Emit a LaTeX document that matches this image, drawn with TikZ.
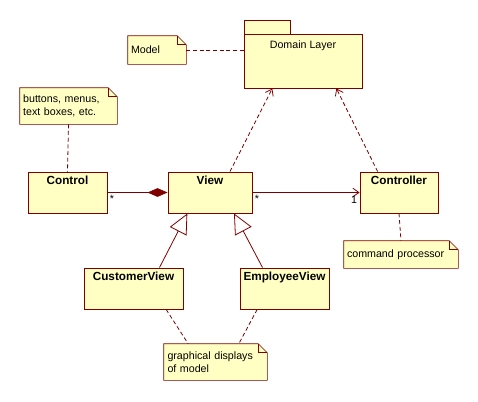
\documentclass[tikz,border=0pt]{standalone}
\usepackage{fontspec}
\setmainfont{Liberation Sans}
\usepackage{tikz}
\usetikzlibrary{arrows.meta, positioning, backgrounds, calc}

\definecolor{umlline}{HTML}{800000}
\definecolor{umlfill}{HTML}{FFFFC4}

\begin{document}
\begin{tikzpicture}[x=0.75pt, y=-0.75pt, font=\fontsize{8}{10}\selectfont,
    classbox/.style={draw=umlline, fill=umlfill, line width=0.7pt, minimum height=30.75pt, inner sep=0pt},
    classname/.style={anchor=north, inner sep=3pt, font=\bfseries\fontsize{8.8}{10}\selectfont},
    notebox/.style={align=left, inner sep=0pt, anchor=center},
    link/.style={draw=umlline, line width=0.6pt},
    notelink/.style={draw=umlline, line width=0.6pt, dash pattern=on 3pt off 2pt}]
  \useasboundingbox (0,0) rectangle (478,401);

  % classes
  \node[classbox, minimum width=59.25pt, label={[classname]north:Control}] (control) at (67.5,192.5) {};
  \node[classbox, minimum width=63pt, label={[classname]north:View}] (view) at (210,192.5) {};
  \node[classbox, minimum width=58.5pt, label={[classname]north:Controller}] (controller) at (399,192.5) {};
  \node[classbox, minimum width=74.25pt, label={[classname]north:CustomerView}] (custview) at (133.5,288.5) {};
  \node[classbox, minimum width=66.75pt, label={[classname]north:EmployeeView}] (empview) at (284.5,288.5) {};

  % package
  \draw[draw=umlline, fill=umlfill, line width=0.7pt] (244,20) rectangle (290,34);
  \node[classbox, minimum width=88.5pt, minimum height=40.5pt, label={[anchor=north,inner sep=5pt]north:Domain Layer}] (domain) at (303,61) {};

  % notes
  \node[notebox, minimum width=43.5pt, minimum height=21pt, text width=39pt] (modelnote) at (157,50) {Model};
  \node[notebox, minimum width=72.75pt, minimum height=27pt, text width=68pt] (buttonnote) at (68.5,106) {buttons, menus,\\text boxes, etc.};
  \node[notebox, minimum width=85.5pt, minimum height=20.25pt, text width=81pt] (cmdnote) at (401,254.5) {command processor};
  \node[notebox, minimum width=77.25pt, minimum height=27pt, text width=72pt] (gfxnote) at (215.5,362) {graphical displays\\of model};
  \begin{scope}[on background layer, line width=0.7pt]
    \foreach \n in {modelnote, buttonnote, cmdnote, gfxnote} {
      \draw[draw=umlline, fill=umlfill] (\n.south west) -- (\n.north west) -- ($(\n.north east)+(-9,0)$)
        -- ($(\n.north east)+(0,9)$) -- (\n.south east) -- cycle;
      \draw[umlline] ($(\n.north east)+(-9,0)$) -- ($(\n.north east)+(-9,9)$) -- ($(\n.north east)+(0,9)$);
    }
  \end{scope}

  % connectors
  \draw[link, -{Diamond[length=15pt, width=6.5pt, fill=umlline]}] (control.east) -- (view.west)
    node[pos=0, below right, inner sep=1.5pt] {*};
  \draw[link, -{Straight Barb[length=4.5pt, width=6.5pt]}] (view.east) -- (controller.west)
    node[pos=0, below right, inner sep=1.5pt] {*}
    node[pos=1, below left, inner sep=1.5pt, yshift=-1pt] {1};
  \draw[notelink, -{Straight Barb[length=4.5pt, width=6.5pt]}] ([xshift=15]view.north) -- ([xshift=-23]domain.south);
  \draw[notelink, -{Straight Barb[length=4.5pt, width=6.5pt]}] ([xshift=-16]controller.north) -- ([xshift=25]domain.south);
  \draw[link, -{Triangle[open, length=15pt, width=14pt]}] ([xshift=19.5]custview.north) -- ([xshift=-17]view.south);
  \draw[link, -{Triangle[open, length=15pt, width=14pt]}] ([xshift=-16.5]empview.north) -- ([xshift=18]view.south);
  \draw[notelink] (modelnote.east) -- (modelnote.east -| domain.west);
  \draw[notelink] (buttonnote.south) -- (control.north);
  \draw[notelink] (controller.south) -- (cmdnote.north);
  \draw[notelink] ([xshift=24.5]custview.south) -- ([xshift=-20.5]gfxnote.north);
  \draw[notelink] ([xshift=-20.5]empview.south) -- ([xshift=17.5]gfxnote.north);
\end{tikzpicture}
\end{document}
